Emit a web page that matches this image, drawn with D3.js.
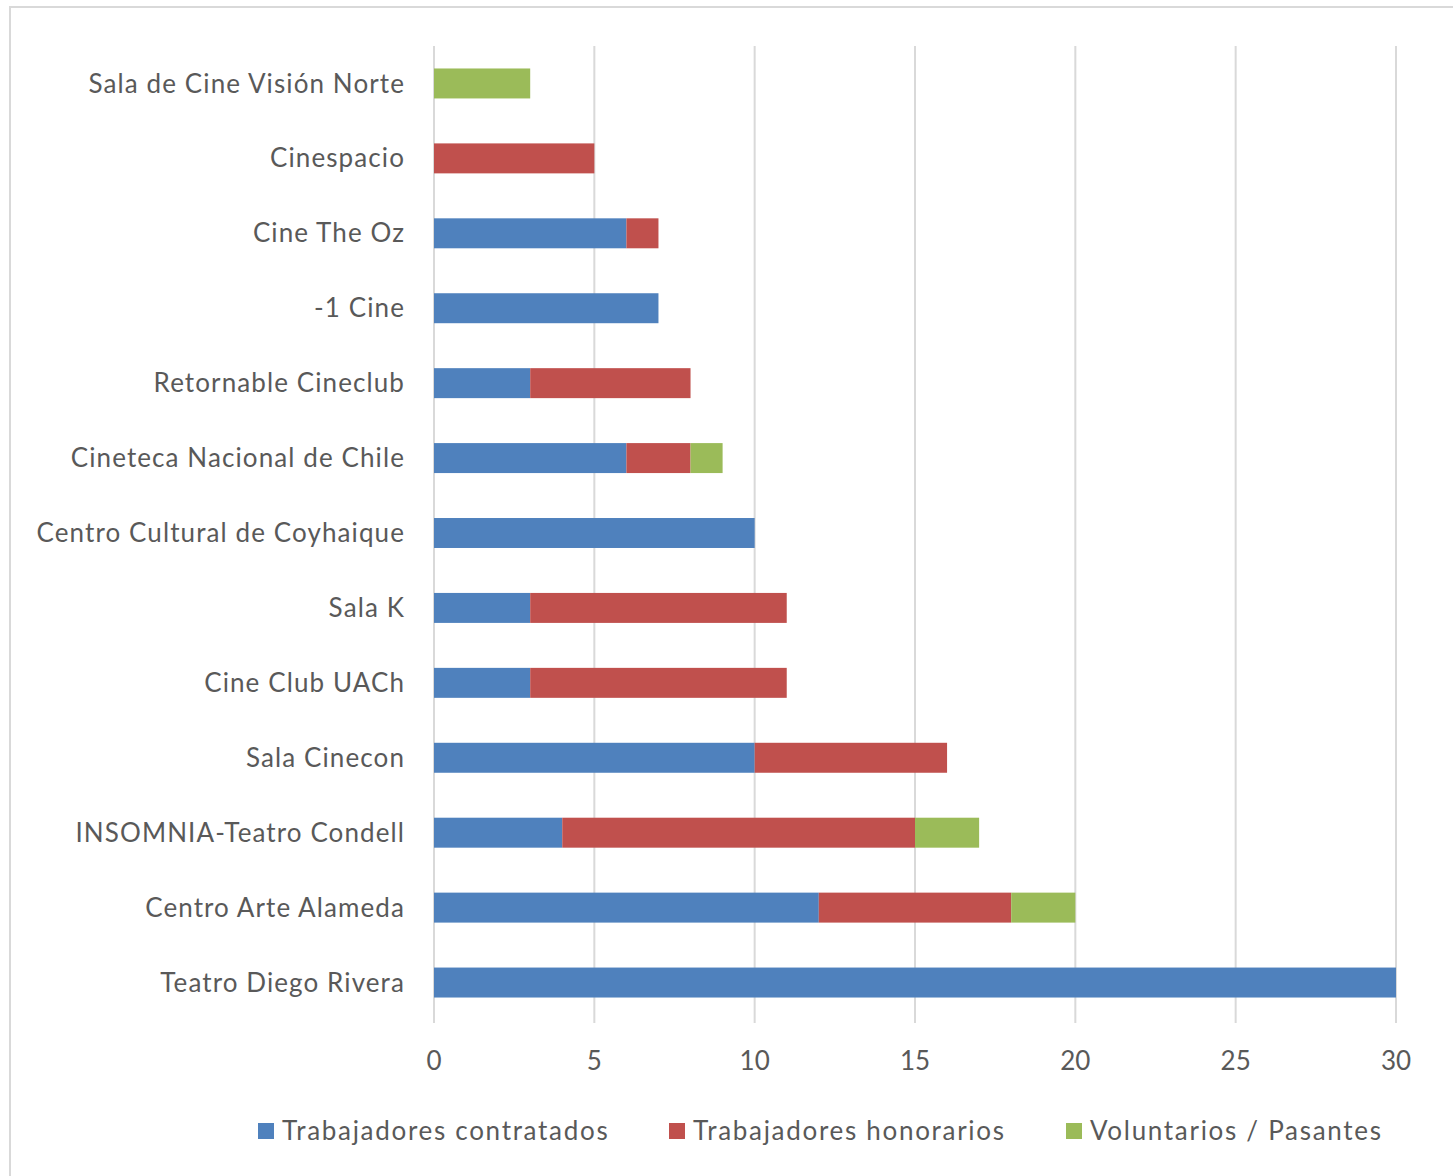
<!DOCTYPE html>
<html><head><meta charset="utf-8">
<script src="https://cdn.jsdelivr.net/npm/d3@7"></script>
<style>body{margin:0;background:#fff;} text{font-family:Lato,"Open Sans",sans-serif;fill:#595959;}</style>
</head><body>
<svg id="c" width="1453" height="1176"></svg>
<script>
const categories = ["Sala de Cine Visión Norte","Cinespacio","Cine The Oz","-1 Cine","Retornable Cineclub","Cineteca Nacional de Chile","Centro Cultural de Coyhaique","Sala K","Cine Club UACh","Sala Cinecon","INSOMNIA-Teatro Condell","Centro Arte Alameda","Teatro Diego Rivera"];
const contratados = [0,0,6,7,3,6,10,3,3,10,4,12,30];
const honorarios  = [0,5,1,0,5,2,0,8,8,6,11,6,0];
const voluntarios = [3,0,0,0,0,1,0,0,0,0,2,2,0];
const seriesNames = ["Trabajadores contratados","Trabajadores honorarios","Voluntarios / Pasantes"];
const seriesColors = ["#4F81BD","#C0504D","#9BBB59"];
const xTicks = [0,5,10,15,20,25,30];

const svg = d3.select("#c");
svg.append("rect").attr("x",10).attr("y",7).attr("width",1460).attr("height",1200)
  .attr("fill","none").attr("stroke","#d9d9d9").attr("stroke-width",2);

const L=434, R=1396, T=46, B=1023;
const x = d3.scaleLinear().domain([0,30]).range([L,R]);
const y = d3.scaleBand().domain(categories).range([T,B-3]).paddingInner(0.6).paddingOuter(0.3);

// gridlines
svg.append("g").selectAll("line").data(xTicks).join("line")
  .attr("x1",d=>x(d)).attr("x2",d=>x(d)).attr("y1",T).attr("y2",B)
  .attr("stroke","#d9d9d9").attr("stroke-width",2);

const rows = categories.map((c,i)=>({c, v:[contratados[i],honorarios[i],voluntarios[i]]}));
const stack = d3.stack().keys([0,1,2]).value((d,k)=>d.v[k]);
const stacked = stack(rows);
svg.append("g").selectAll("g").data(stacked).join("g").attr("fill",(d,i)=>seriesColors[i])
  .selectAll("rect").data(d=>d.filter(s=>s[1]>s[0])).join("rect")
  .attr("x",d=>x(d[0])).attr("width",d=>x(d[1])-x(d[0]))
  .attr("y",d=>y(d.data.c)).attr("height",y.bandwidth());

// category labels
svg.append("g").selectAll("text").data(categories).join("text")
  .attr("x",405).attr("y",d=>y(d)+y.bandwidth()/2).attr("dy","0.35em")
  .attr("text-anchor","end").attr("font-size",26).attr("letter-spacing",1.1).text(d=>d);

// x tick labels
svg.append("g").selectAll("text").data(xTicks).join("text")
  .attr("x",d=>x(d)).attr("y",1061).attr("dy","0.35em").attr("text-anchor","middle")
  .attr("font-size",26).text(d=>d);

// legend
const legX=[258,669,1066];
const lg = svg.append("g").selectAll("g").data(seriesNames).join("g")
  .attr("transform",(d,i)=>`translate(${legX[i]},1131)`);
lg.append("rect").attr("x",0).attr("y",-8).attr("width",16).attr("height",16).attr("fill",(d,i)=>seriesColors[i]);
lg.append("text").attr("x",24).attr("dy","0.35em").attr("font-size",26).attr("letter-spacing",1.7).text(d=>d);
</script>
</body></html>
